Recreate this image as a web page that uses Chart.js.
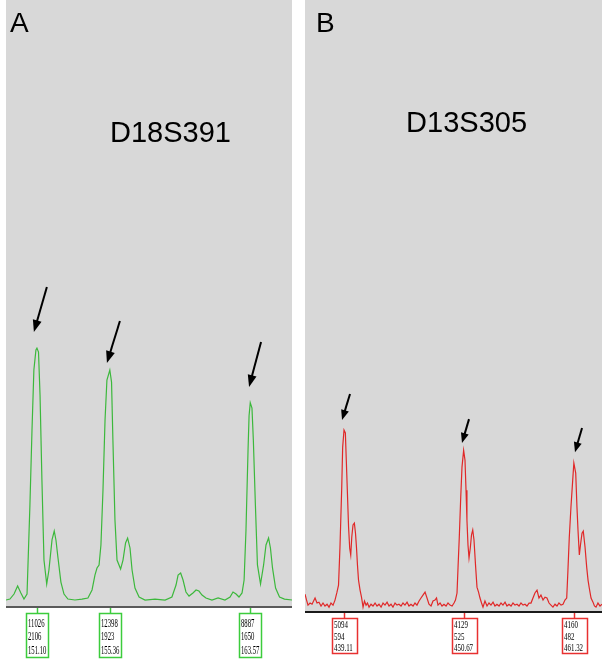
<!DOCTYPE html>
<html><head><meta charset="utf-8">
<script src="https://cdn.jsdelivr.net/npm/chart.js@4/dist/chart.umd.min.js"></script>
<style>
html,body{margin:0;padding:0;background:#fff;width:602px;height:661px;overflow:hidden}
#wrap{position:relative;width:602px;height:661px}
canvas{position:absolute;top:0}
#cA{left:0}
#cB{left:300px}
</style></head><body>
<div id="wrap"><canvas id="cA" width="300" height="661"></canvas><canvas id="cB" width="302" height="661"></canvas></div>
<script>
// ---------- Panel A: D18S391 (size in bp, signal in RFU) ----------
const markerA = 'D18S391';
const sizeA = [
 149.29,149.52,149.76,149.97,150.16,150.34,150.52,150.69,150.81,150.92,
 151.04,151.10,151.19,151.28,151.39,151.51,151.67,151.80,151.98,152.11,
 152.21,152.33,152.50,152.68,152.91,153.32,153.73,154.08,154.32,154.49,
 154.61,154.73,154.84,154.96,155.08,155.19,155.36,155.46,155.54,155.66,
 155.78,155.99,156.13,156.28,156.40,156.54,156.66,156.83,157.07,157.42,
 158.00,158.59,158.99,159.23,159.35,159.50,159.64,159.81,159.99,160.22,
 160.40,160.57,160.75,160.98,161.33,161.69,162.09,162.39,162.56,162.74,
 162.91,163.09,163.21,163.32,163.44,163.50,163.57,163.67,163.75,163.87,
 163.99,164.17,164.35,164.49,164.64,164.75,164.87,165.05,165.28,165.57,
 166.01];
const rfuA = [
 0,8,50,117,59,8,50,800,1421,1923,
 2090,2106,2073,1714,1003,334,134,251,502,577,
 502,351,150,50,8,0,8,17,84,209,
 268,293,460,920,1505,1839,1923,1822,1338,669,
 334,259,334,477,518,435,251,100,25,0,
 8,0,25,125,209,226,167,67,33,59,
 84,75,42,17,0,17,0,25,67,50,
 25,59,167,585,1254,1540,1650,1605,1338,794,
 293,134,293,460,518,435,268,100,25,8,
 0];
const peakSizeA = [151.10, 155.36, 163.57];
const peakHeightA = [2106, 1923, 1650];
const peakAreaA = [11026, 12398, 8887];
// arrows (data coordinates: tail size, tail RFU, tip size, tip RFU)
const arrowTailSizeA = [151.68, 155.95, 164.20];
const arrowTailRfuA = [2617, 2332, 2157];
const arrowTipSizeA = [150.92, 155.19, 163.50];
const arrowTipRfuA = [2240, 1981, 1781];

// ---------- Panel B: D13S305 ----------
const markerB = 'D13S305';
const sizeB = [
 435.34,435.49,435.63,435.83,436.02,436.31,436.50,436.69,436.89,437.08,
 437.27,437.47,437.66,437.85,438.05,438.24,438.43,438.58,438.72,438.89,
 438.98,439.11,439.24,439.33,439.43,439.55,439.66,439.76,439.86,439.98,
 440.11,440.22,440.32,440.41,440.51,440.66,440.80,440.95,441.09,441.24,
 441.38,441.53,441.72,441.91,442.11,442.30,442.49,442.69,442.88,443.07,
 443.27,443.46,443.65,443.84,444.04,444.23,444.42,444.62,444.81,445.00,
 445.20,445.39,445.58,445.78,445.97,446.16,446.36,446.55,446.74,446.94,
 447.13,447.32,447.52,447.71,447.90,448.05,448.19,448.39,448.58,448.77,
 448.97,449.16,449.35,449.55,449.74,449.88,450.03,450.13,450.25,450.39,
 450.51,450.67,450.80,450.90,450.99,451.09,451.19,451.31,451.43,451.55,
 451.67,451.83,451.96,452.11,452.25,452.40,452.54,452.73,452.93,453.12,
 453.31,453.51,453.70,453.89,454.09,454.28,454.47,454.67,454.86,455.05,
 455.25,455.44,455.63,455.83,456.02,456.21,456.41,456.60,456.79,456.99,
 457.18,457.37,457.56,457.76,457.95,458.14,458.34,458.53,458.72,458.92,
 459.11,459.30,459.50,459.69,459.88,460.08,460.27,460.46,460.63,460.75,
 460.88,461.04,461.21,461.32,461.50,461.62,461.72,461.85,461.96,462.11,
 462.23,462.40,462.56,462.69,462.81,462.98,463.17,463.31,463.46,463.65,
 463.85,464.04];
const rfuB = [
 37,17,0,7,3,24,7,10,-3,7,
 -3,3,-7,7,0,17,44,68,197,400,
 536,594,584,492,390,265,193,170,231,272,
 278,244,193,136,85,51,27,-7,14,0,
 7,-7,3,-3,7,-3,3,-7,7,0,
 10,-3,3,-7,7,0,3,-3,7,0,
 10,-3,3,-3,7,0,14,24,34,44,
 24,3,-3,14,17,24,0,7,-3,3,
 -3,7,0,-3,7,17,41,129,231,367,
 468,525,492,390,288,204,160,193,238,255,
 221,129,61,44,24,7,-7,14,-3,7,
 0,10,-3,3,-3,7,0,10,-3,3,
 -3,7,0,3,-3,7,0,3,-3,7,
 7,24,41,51,24,34,17,27,24,7,
 0,-7,3,-3,7,0,3,17,24,119,
 231,333,424,482,448,333,255,170,204,244,
 251,197,129,85,58,24,10,-3,-7,7,
 -3,3];
const peakSizeB = [439.11, 450.67, 461.32];
const peakHeightB = [594, 525, 482];
const peakAreaB = [5094, 4129, 4160];
const arrowTailSizeB = [439.69, 451.19, 462.11];
const arrowTailRfuB = [716, 631, 601];
const arrowTipSizeB = [438.92, 450.51, 461.43];
const arrowTipRfuB = [628, 550, 519];

function drawArrow(ctx, x1, y1, x2, y2, headLen, headW) {
  const dx = x2 - x1, dy = y2 - y1, L = Math.hypot(dx, dy);
  const ux = dx / L, uy = dy / L;
  const bx = x2 - ux * headLen, by = y2 - uy * headLen;
  ctx.strokeStyle = '#000'; ctx.fillStyle = '#000'; ctx.lineWidth = 2;
  ctx.beginPath(); ctx.moveTo(x1, y1); ctx.lineTo(bx + ux * 1, by + uy * 1); ctx.stroke();
  ctx.beginPath();
  ctx.moveTo(x2, y2);
  ctx.lineTo(bx - uy * headW / 2, by + ux * headW / 2);
  ctx.lineTo(bx + uy * headW / 2, by - ux * headW / 2);
  ctx.closePath(); ctx.fill();
}

function makePanel(id, p) {
  const deco = {
    id: 'deco' + id,
    beforeDraw(chart) {
      const {ctx, chartArea: a} = chart;
      ctx.save(); ctx.fillStyle = '#d8d8d8';
      ctx.fillRect(a.left, a.top, a.right - a.left, a.bottom - a.top);
      ctx.restore();
    },
    afterDraw(chart) {
      const {ctx, chartArea: a} = chart;
      const xs = chart.scales.x, ys = chart.scales.y;
      ctx.save();
      // bottom axis line
      ctx.fillStyle = p.axisColor;
      ctx.fillRect(a.left, a.bottom, a.right - a.left, 2);
      // titles
      ctx.fillStyle = '#000';
      ctx.font = '28px "Liberation Sans", Arial, sans-serif';
      ctx.textAlign = 'left'; ctx.textBaseline = 'alphabetic';
      ctx.fillText(p.letter, a.left + p.letterDx, 32);
      ctx.font = '29px "Liberation Sans", Arial, sans-serif';
      ctx.textAlign = 'center';
      ctx.fillText(p.marker, a.left + p.markerFx * (a.right - a.left), p.markerY);
      // arrows
      for (let i = 0; i < p.tailS.length; i++) {
        drawArrow(ctx, xs.getPixelForValue(p.tailS[i]), ys.getPixelForValue(p.tailR[i]),
          xs.getPixelForValue(p.tipS[i]), ys.getPixelForValue(p.tipR[i]), p.headLen, p.headW);
      }
      // peak label boxes
      const lineBottom = a.bottom + 2;
      for (let i = 0; i < p.pSize.length; i++) {
        const x = Math.round(xs.getPixelForValue(p.pSize[i]));
        const bx = Math.round(x - p.boxW / 2) + 0.5;
        ctx.strokeStyle = p.boxColor; ctx.lineWidth = 1.5;
        ctx.beginPath(); ctx.moveTo(x + 0.5, lineBottom); ctx.lineTo(x + 0.5, p.boxTop); ctx.stroke();
        ctx.strokeRect(bx, p.boxTop + 0.5, p.boxW, p.boxH);
        const lines = [String(p.pArea[i]), String(p.pHeight[i]), p.pSize[i].toFixed(2)];
        ctx.fillStyle = '#000';
        ctx.font = p.boxFont; ctx.textAlign = 'left';
        for (let k = 0; k < 3; k++) {
          ctx.save();
          ctx.translate(bx + 1.5, p.boxTop + p.textDy[k]);
          ctx.scale(p.textSx, 1);
          ctx.fillText(lines[k], 0, 0);
          ctx.restore();
        }
      }
      ctx.restore();
    }
  };
  return new Chart(document.getElementById(id), {
    type: 'line',
    data: {
      datasets: [{
        data: p.size.map((s, i) => ({x: s, y: p.rfu[i]})),
        borderColor: p.lineColor, borderWidth: 1.2, pointRadius: 0,
        tension: 0, fill: false
      }]
    },
    options: {
      responsive: false, animation: false, devicePixelRatio: 1, events: [],
      layout: {padding: p.padding},
      plugins: {legend: {display: false}, tooltip: {enabled: false}},
      scales: {
        x: {type: 'linear', display: false, min: p.xMin, max: p.xMax},
        y: {display: false, min: p.yMin, max: p.yMax}
      }
    },
    plugins: [deco]
  });
}

makePanel('cA', {
  size: sizeA, rfu: rfuA, lineColor: '#3cb83c', boxColor: '#3ccc3c', axisColor: '#5a5a5a',
  letter: 'A', letterDx: 4, marker: markerA, markerFx: 0.575, markerY: 142,
  xMin: 149.29, xMax: 166.01, yMin: -50, yMax: 5016,
  padding: {left: 6, right: 8, top: 0, bottom: 55},
  tailS: arrowTailSizeA, tailR: arrowTailRfuA, tipS: arrowTipSizeA, tipR: arrowTipRfuA,
  headLen: 12, headW: 9,
  pSize: peakSizeA, pHeight: peakHeightA, pArea: peakAreaA,
  boxW: 22, boxH: 44, boxTop: 613, textDy: [14, 27, 41], textSx: 0.56,
  boxFont: '12px "Liberation Serif", "Times New Roman", serif'
});
makePanel('cB', {
  size: sizeB, rfu: rfuB, lineColor: '#e02828', boxColor: '#e83030', axisColor: '#1a1a1a',
  letter: 'B', letterDx: 11, marker: markerB, markerFx: 0.544, markerY: 132,
  xMin: 435.34, xMax: 464.04, yMin: -20, yMax: 2053,
  padding: {left: 5, right: 0, top: 0, bottom: 50},
  tailS: arrowTailSizeB, tailR: arrowTailRfuB, tipS: arrowTipSizeB, tipR: arrowTipRfuB,
  headLen: 10, headW: 8,
  pSize: peakSizeB, pHeight: peakHeightB, pArea: peakAreaB,
  boxW: 25, boxH: 35, boxTop: 618, textDy: [10, 22, 33], textSx: 0.66,
  boxFont: '10.5px "Liberation Serif", "Times New Roman", serif'
});
</script>
</body></html>
